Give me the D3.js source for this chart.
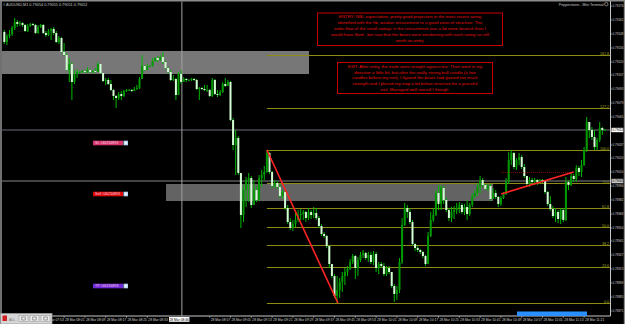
<!DOCTYPE html>
<html lang="en">
<head>
<meta charset="utf-8">
<title>AUDUSD M1</title>
<script src="https://d3js.org/d3.v7.min.js"></script>
<style>
body { margin: 0; background: #000; }
svg { display: block; font-family: "Liberation Sans", Arial, sans-serif; }
</style>
</head>
<body>
<script>
// M1 bars from 28 Mar 07:38, prices in points (x 1e-5)
var firstOpen = 79150;
var closes = [
79140,79146,79148,79154,79160,79158,79159,79157,79151,79156,
79158,79157,79149,79155,79157,79149,79147,79151,79153,79149,
79140,79144,79130,79127,79112,79118,79100,79108,79110,79110,
79111,79110,79112,79110,79111,79110,79118,79109,79101,79102,
79098,79092,79086,79084,79088,79086,79091,79092,79092,79091,
79093,79094,79103,79116,79112,79116,79116,79121,79124,79122,
79125,79120,79114,79110,79102,79103,79087,79108,79100,79103,
79102,79102,79103,79102,79093,79094,79093,79092,79092,79086,
79102,79088,79087,79090,79098,79096,79100,79062,79037,79044,
79009,78967,78992,79002,79004,78977,78992,78982,79004,79007,
79010,79029,79010,78996,78999,78995,78986,78990,78974,78960,
78954,78958,78962,78967,78968,78970,78964,78970,78967,78969,
78964,78956,78948,78946,78936,78918,78906,78886,78892,78900,
78906,78910,78913,78920,78926,78914,78922,78927,78929,78924,
78927,78920,78928,78914,78918,78916,78908,78914,78910,78896,
78888,78892,78920,78957,78974,78970,78960,78938,78934,78932,
78930,78926,78918,78946,78962,78967,78989,78978,78994,78982,
78972,78964,78970,78972,78974,78977,78970,78975,78968,78977,
78986,78989,78996,79002,78997,78993,78996,78983,78989,78985,
78978,78984,78988,79000,79022,79029,79015,79022,79025,79015,
79006,78998,79002,79000,79002,79000,79002,79001,78990,78978,
78973,78966,78970,78963,78972,78962,79000,78997,79006,79003,
79014,79010,79017,79032,79060,79052,79045,79035,79042,79054,
79052,79052];
var highs = [
79152,79148,79152,79156,79164,79162,79161,79160,79158,79158,
79159,79159,79158,79157,79158,79158,79151,79153,79154,79155,
79151,79146,79145,79139,79129,79124,79120,79112,79113,79111,
79112,79112,79115,79113,79112,79114,79120,79116,79109,79104,
79104,79102,79093,79087,79090,79091,79092,79093,79093,79093,
79095,79097,79105,79127,79117,79118,79117,79124,79125,79126,
79127,79130,79121,79115,79112,79107,79104,79110,79112,79105,
79104,79103,79104,79104,79103,79095,79095,79097,79097,79093,
79104,79103,79092,79092,79100,79104,79102,79101,79064,79052,
79046,79009,78997,79005,79009,79006,79002,78996,79007,79012,
79016,79032,79030,79011,79002,79001,78998,78992,78991,78977,
78964,78962,78970,78972,78973,78972,78971,78974,78972,78975,
78974,78966,78958,78950,78947,78937,78918,78908,78906,78904,
78910,78914,78916,78923,78928,78927,78925,78930,78932,78930,
78930,78930,78931,78930,78920,78920,78919,78916,78916,78910,
78898,78896,78924,78964,78979,78977,78974,78962,78939,78936,
78933,78931,78927,78950,78970,78974,78992,78997,78997,78996,
78984,78974,78975,78976,78979,78980,78979,78978,78982,78979,
78989,78992,78999,79006,79004,78998,78998,78998,78994,78992,
78986,78986,78990,79004,79030,79032,79030,79024,79029,79027,
79018,79006,79005,79004,79004,79003,79003,79003,79002,78991,
78986,78976,78974,78972,78974,78974,79005,79002,79009,79008,
79017,79016,79022,79035,79065,79057,79055,79052,79044,79060,
79055,79053];
var lows = [
79138,79137,79144,79146,79152,79155,79156,79155,79150,79150,
79155,79156,79148,79148,79154,79148,79145,79146,79142,79147,
79139,79138,79129,79126,79111,79100,79082,79098,79104,79108,
79109,79109,79109,79109,79109,79109,79110,79108,79100,79097,
79097,79091,79082,79074,79082,79082,79085,79090,79091,79090,
79091,79092,79093,79104,79111,79112,79115,79115,79120,79120,
79121,79118,79113,79109,79101,79101,79082,79087,79098,79100,
79100,79101,79101,79101,79092,79082,79092,79091,79090,79085,
79085,79087,79085,79086,79089,79095,79098,79061,79032,79007,
79007,78954,78960,78975,78980,78974,78982,78980,78981,78995,
79002,79009,79008,78994,78994,78993,78984,78983,78972,78958,
78952,78951,78955,78960,78962,78962,78960,78962,78963,78964,
78962,78954,78946,78944,78934,78914,78904,78884,78879,78884,
78890,78897,78906,78912,78918,78903,78906,78920,78924,78922,
78920,78918,78917,78910,78908,78914,78906,78906,78908,78894,
78880,78882,78889,78918,78956,78964,78958,78936,78931,78930,
78928,78924,78916,78918,78945,78960,78966,78972,78972,78978,
78970,78961,78960,78963,78968,78969,78968,78967,78962,78966,
78975,78984,78986,78989,78995,78992,78991,78981,78983,78983,
78975,78976,78983,78987,78998,79017,79013,79012,79017,79013,
79004,78996,78995,78997,78997,78997,78998,78999,78988,78976,
78971,78964,78960,78959,78958,78960,78961,78992,78996,79000,
79000,79006,79005,79016,79030,79044,79042,79032,79032,79040,
79047,79051];

var priceTicks = [0.79176,0.79162,0.79148,0.79134,0.79120,0.79107,0.79093,0.79079,
  0.79065,0.79051,0.79037,0.79024,0.79010,0.78996,0.78982,0.78968,0.78954,0.78941,
  0.78927,0.78913,0.78899,0.78885,0.78871];
var bidPrice = 0.79052, sellPrice = 0.79001;

// fibonacci from swing high (bar 101) to swing low
var fibHigh = 0.79032, fibLow = 0.78879, fibStartBar = 101;
var fibLevels = [0, 23.6, 38.2, 50, 61.8, 78.6, 100, 127.2, 161.8];
var fibNames = ["0.0", "23.6", "38.2", "50.0", "61.8", "78.6", "100.0", "127.2", "161.8"];

// zones [startBar, endBar, top, bottom]
var zones = [[-3, 117.2, 0.79131, 0.79108], [62.2, 188, 0.78998, 0.78981]];
// trend lines [bar1, price1, bar2, price2]
var trendLines = [[101, 0.79032, 128.3, 0.78879], [191.1, 0.78988, 219, 0.79010]];
var vLineBar = 68.3;

var orderLabels = [
  {text: "SL #46234893", price: 0.79039, color: "#d8346a"},
  {text: "Sell #46234893", price: 0.78988, color: "#e00808"},
  {text: "TP #46234893", price: 0.78896, color: "#7028d8"}
];

var entryText = [
  "ENTRY: NBL expectation, pretty good projection in the most recent swing",
  "identified with the fib, weaker retracement to a good zone of structure.  The",
  "order flow of the small swings in the retracement was a bit more bearish than I",
  "would have liked , but saw that the bears were weakening with each swing so still",
  "worth an entry."
];
var exitText = [
  "EXIT: After entry, the trade went straight against me.  Then went in my",
  "direction a little bit, but after the really strong bull candle (a few",
  "candles before my exit), I figured the bears had gained too much",
  "strength and I placed my stop a bit below structure for a graceful",
  "exit.  Managed well overall I though."
];

var w = 625, h = 324;
var plotRight = 610.5, axisY = 316;

var bars = closes.map(function(c, i) {
  return {i: i, o: (i === 0 ? firstOpen : closes[i - 1]) / 1e5, c: c / 1e5, h: highs[i] / 1e5, l: lows[i] / 1e5};
});

function timeOf(i) {
  var m = 7 * 60 + 38 + i;
  var hh = Math.floor(m / 60), mm = m % 60;
  return "28 Mar " + (hh < 10 ? "0" : "") + hh + ":" + (mm < 10 ? "0" : "") + mm;
}

var x = d3.scaleLinear().domain([0, 231]).range([4.3, 604.9]);
var y = d3.scaleLinear().domain([0.78866, 0.79182]).range([axisY, 0]);

var svg = d3.select("body").append("svg").attr("width", w).attr("height", h);
svg.append("rect").attr("width", w).attr("height", h).attr("fill", "#000");

svg.append("clipPath").attr("id", "plot")
  .append("rect").attr("x", 2).attr("y", 1.5).attr("width", plotRight - 2).attr("height", axisY - 1.5);

var plot = svg.append("g").attr("clip-path", "url(#plot)");

// zones
plot.selectAll("rect.zone").data(zones).enter().append("rect")
  .attr("class", "zone")
  .attr("x", function(d) { return x(d[0]); })
  .attr("y", function(d) { return y(d[2]); })
  .attr("width", function(d) { return x(d[1]) - x(d[0]); })
  .attr("height", function(d) { return y(d[3]) - y(d[2]); })
  .attr("fill", function(d, i) { return i === 0 ? "#777" : "#636363"; });

// fib levels
var fib = plot.append("g");
fibLevels.forEach(function(r, k) {
  var p = fibLow + (fibHigh - fibLow) * r / 100;
  fib.append("line")
    .attr("x1", x(fibStartBar)).attr("x2", plotRight)
    .attr("y1", Math.round(y(p)) + 0.5).attr("y2", Math.round(y(p)) + 0.5)
    .attr("stroke", "#8c8c14").attr("stroke-width", 1);
  fib.append("text")
    .attr("x", 609).attr("y", Math.round(y(p)) - 0.3)
    .attr("text-anchor", "end")
    .attr("font-size", 3.6)
    .attr("fill", "#a8a820")
    .text(fibNames[k]);
});

// bid and sell lines
plot.append("line").attr("x1", 0).attr("x2", plotRight)
  .attr("y1", y(bidPrice)).attr("y2", y(bidPrice))
  .attr("stroke", "#6c6c78").attr("stroke-width", 1);
plot.append("line").attr("x1", 0).attr("x2", plotRight)
  .attr("y1", y(sellPrice)).attr("y2", y(sellPrice))
  .attr("stroke", "#5a5a5a").attr("stroke-width", 1.6);

// vertical line
plot.append("line")
  .attr("x1", x(vLineBar)).attr("x2", x(vLineBar))
  .attr("y1", 0).attr("y2", axisY)
  .attr("stroke", "#a0a0a0").attr("stroke-width", 1);

// candles
var candle = plot.selectAll("g.bar").data(bars).enter().append("g").attr("class", "bar");
candle.append("line")
  .attr("x1", function(d) { return x(d.i); })
  .attr("x2", function(d) { return x(d.i); })
  .attr("y1", function(d) { return y(Math.max(d.h, d.o, d.c)); })
  .attr("y2", function(d) { return y(Math.min(d.l, d.o, d.c)); })
  .attr("stroke", "#00b800").attr("stroke-width", 1);
candle.append("rect")
  .attr("x", function(d) { return x(d.i) - 1; })
  .attr("width", 2)
  .attr("y", function(d) { return y(Math.max(d.o, d.c)); })
  .attr("height", function(d) { return Math.max(0.8, Math.abs(y(d.o) - y(d.c))); })
  .attr("fill", function(d) { return d.c >= d.o ? "#009a00" : "#d4ffd4"; });

// trend lines
plot.append("line")
  .attr("x1", x(trendLines[1][0])).attr("x2", x(trendLines[1][2]))
  .attr("y1", y(trendLines[1][3]) + 0.5).attr("y2", y(trendLines[1][3]) + 0.5)
  .attr("stroke", "#a01010").attr("stroke-width", 0.8).attr("stroke-dasharray", "1,1");
plot.selectAll("line.trend").data(trendLines).enter().append("line")
  .attr("class", "trend")
  .attr("x1", function(d) { return x(d[0]); })
  .attr("y1", function(d) { return y(d[1]); })
  .attr("x2", function(d) { return x(d[2]); })
  .attr("y2", function(d) { return y(d[3]); })
  .attr("stroke", "#ff2424").attr("stroke-width", 1.6);

// order labels
orderLabels.forEach(function(d) {
  var cy = y(d.price);
  plot.append("rect").attr("x", 93).attr("y", cy - 2.3).attr("width", 30).attr("height", 4.6).attr("fill", d.color);
  plot.append("text").attr("x", 95).attr("y", cy + 1.3).attr("font-size", 3.6).attr("fill", "#f0d0e0").text(d.text);
  plot.append("rect").attr("x", 123.5).attr("y", cy - 2.3).attr("width", 4.5).attr("height", 4.6).attr("fill", "#b4d2f4");
  plot.append("rect").attr("x", 124.5).attr("y", cy - 1.3).attr("width", 2.5).attr("height", 2.6).attr("fill", "#e8f2ff");
});

// comment boxes
function noteBox(x0, y0, x1, y1, lines, ly0, step) {
  svg.append("rect").attr("x", x0).attr("y", y0).attr("width", x1 - x0).attr("height", y1 - y0)
    .attr("fill", "#000").attr("stroke", "#c40000").attr("stroke-width", 1);
  svg.selectAll(null).data(lines).enter().append("text")
    .attr("x", (x0 + x1) / 2)
    .attr("y", function(d, i) { return ly0 + i * step; })
    .attr("text-anchor", "middle")
    .attr("font-size", 4.4)
    .attr("fill", "#e81010")
    .text(function(d) { return d; });
}
noteBox(317.5, 13, 502.5, 45.5, entryText, 18, 6);
noteBox(337.5, 62.5, 492.5, 93.5, exitText, 67.8, 5.8);

// header texts
svg.append("text").attr("x", 3).attr("y", 5.6).attr("font-size", 3.8).attr("fill", "#c8c8c8")
  .text("# AUDUSD,M1  0.79054 0.79055 0.79051 0.79052");
svg.append("text").attr("x", 603.5).attr("y", 5.6).attr("font-size", 3.6).attr("fill", "#c8c8c8")
  .attr("text-anchor", "end").text("Pepperstone - Mini Terminal");
svg.append("circle").attr("cx", 606.3).attr("cy", 4.2).attr("r", 1.7)
  .attr("fill", "none").attr("stroke", "#c8c8c8").attr("stroke-width", 0.6);

// price axis
svg.append("line").attr("x1", plotRight).attr("x2", plotRight).attr("y1", 0).attr("y2", axisY)
  .attr("stroke", "#c8c8c8").attr("stroke-width", 1);
var pa = svg.selectAll("g.ptick").data(priceTicks).enter().append("g").attr("class", "ptick");
pa.append("line").attr("x1", plotRight).attr("x2", plotRight + 1.6)
  .attr("y1", function(d) { return y(d); }).attr("y2", function(d) { return y(d); })
  .attr("stroke", "#c8c8c8").attr("stroke-width", 0.6);
pa.append("text").attr("x", 612.6).attr("y", function(d) { return y(d) + 1.1; })
  .attr("font-size", 3).attr("fill", "#d0d0d0").text(function(d) { return d.toFixed(5); });

[bidPrice, sellPrice].forEach(function(p, k) {
  svg.append("rect").attr("x", 611.5).attr("y", y(p) - 2.2).attr("width", 11.8).attr("height", 4.4)
    .attr("fill", k === 0 ? "#ffffff" : "#c8c8c8");
  svg.append("text").attr("x", 612.6).attr("y", y(p) + 1.1).attr("font-size", 3)
    .attr("fill", "#000").text(p.toFixed(5));
});

// time axis
svg.append("line").attr("x1", 0).attr("x2", plotRight).attr("y1", axisY).attr("y2", axisY)
  .attr("stroke", "#c8c8c8").attr("stroke-width", 1);
var hlX0 = 169, hlX1 = 189.4;
var timeBars = d3.range(7, 224, 8).filter(function(d) { return x(d) + 18 < hlX0 || x(d) > hlX1; });
var ta = svg.selectAll("g.ttick").data(timeBars).enter().append("g").attr("class", "ttick");
ta.append("line").attr("x1", function(d) { return x(d); }).attr("x2", function(d) { return x(d); })
  .attr("y1", axisY).attr("y2", axisY + 1.8).attr("stroke", "#c8c8c8").attr("stroke-width", 0.6);
ta.append("text").attr("x", function(d) { return x(d) + 1; }).attr("y", 320.8)
  .attr("font-size", 3.3).attr("fill", "#d0d0d0").text(function(d) { return timeOf(d); });

svg.append("rect").attr("x", hlX0).attr("y", 317).attr("width", hlX1 - hlX0).attr("height", 4.8)
  .attr("fill", "#ffffff");
svg.append("text").attr("x", (hlX0 + hlX1) / 2).attr("y", 320.8).attr("text-anchor", "middle")
  .attr("font-size", 3.3).attr("fill", "#000").text(timeOf(Math.floor(vLineBar)));

// blue range bar on the time axis
svg.append("rect").attr("x", 517).attr("y", 311.5).attr("width", 70).attr("height", 4.5).attr("fill", "#2a90ff");

// window borders
svg.append("line").attr("x1", 0).attr("x2", w).attr("y1", 0.7).attr("y2", 0.7)
  .attr("stroke", "#8c8c8c").attr("stroke-width", 1.4);
svg.append("line").attr("x1", 1).attr("x2", 1).attr("y1", 0).attr("y2", axisY)
  .attr("stroke", "#8c8c8c").attr("stroke-width", 1.6);
svg.append("line").attr("x1", 624.4).attr("x2", 624.4).attr("y1", 0).attr("y2", h)
  .attr("stroke", "#8c8c8c").attr("stroke-width", 1.2);

// minimized window tab, bottom left
var tab = svg.append("g");
tab.append("rect").attr("x", 0.5).attr("y", 313.5).attr("width", 51.5).attr("height", 10.5)
  .attr("fill", "#d6d6d6").attr("stroke", "#9a9a9a").attr("stroke-width", 0.8);
tab.append("rect").attr("x", 2.5).attr("y", 315.5).attr("width", 4.5).attr("height", 5.5).attr("fill", "#d02020");
tab.append("text").attr("x", 9).attr("y", 320.5).attr("font-size", 3.6).attr("fill", "#707070").text("AU...");
[19, 30, 41].forEach(function(bx) {
  tab.append("rect").attr("x", bx).attr("y", 315.3).attr("width", 9).attr("height", 6.4)
    .attr("fill", "#ececec").attr("stroke", "#9a9a9a").attr("stroke-width", 0.6);
  tab.append("rect").attr("x", bx + 2.8).attr("y", 317).attr("width", 3.4).attr("height", 3)
    .attr("fill", "none").attr("stroke", "#606060").attr("stroke-width", 0.6);
});
</script>
</body>
</html>
